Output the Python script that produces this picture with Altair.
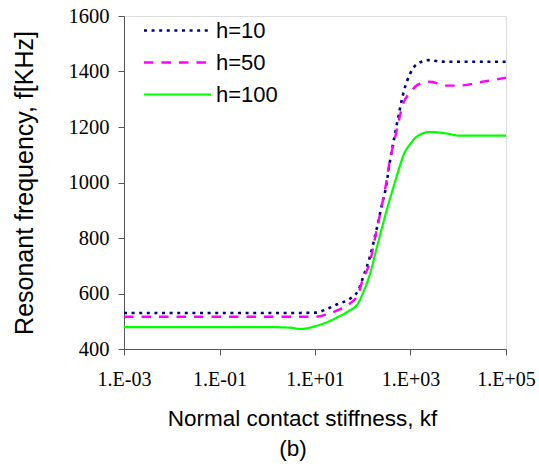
import altair as alt
import pandas as pd

k_values = [0.001, 0.01, 0.1, 1, 3, 5, 10, 20, 30, 50, 80, 100, 140, 200, 260,
            300, 370, 480, 600, 700, 1000, 1400, 2500, 4000, 6000, 10000, 30000, 100000]
f_h10 = [530, 530, 530, 530, 530, 530, 531, 548, 562, 578, 610, 655, 730, 840, 930,
         975, 1075, 1180, 1265, 1318, 1395, 1428, 1441, 1436, 1435, 1435, 1435, 1435]
f_h50 = [516, 516, 516, 516, 516, 516, 516, 528, 540, 560, 598, 650, 710, 837, 930,
         985, 1080, 1165, 1240, 1283, 1325, 1352, 1363, 1356, 1349, 1349, 1362, 1378]
f_h100 = [479, 479, 479, 479, 477, 472, 482, 500, 515, 536, 565, 600, 667, 770, 845,
          885, 940, 1005, 1060, 1095, 1140, 1167, 1182, 1180, 1176, 1169, 1169, 1169]

series_names = ["h=10", "h=50", "h=100"]
series_colors = ["#000080", "#FF00FF", "#00FF00"]
series_dash = [[3, 4.6], [9.5, 8], [1, 0]]
series_width = [2.6, 2.2, 1.0]

x_tick_values = [0.001, 0.1, 10, 1000, 100000]
x_tick_labels = ["1.E-03", "1.E-01", "1.E+01", "1.E+03", "1.E+05"]
y_tick_values = [400, 600, 800, 1000, 1200, 1400, 1600]

rows = []
for name, vals in zip(series_names, [f_h10, f_h50, f_h100]):
    for k, f in zip(k_values, vals):
        rows.append({"k": k, "f": f, "series": name})
df = pd.DataFrame(rows)

label_arr = "[" + ",".join("'" + s + "'" for s in x_tick_labels) + "]"
label_expr = label_arr + "[round((log(datum.value)/LN10+3)/2)]"

legend = alt.Legend(
    title=None, orient="none", legendX=41, legendY=2,
    symbolType="M-3,0H3", symbolSize=500,
    labelFont="Liberation Sans", labelFontSize=22, labelColor="#000000",
    labelOffset=26, rowPadding=8, labelLimit=200,
)

chart = alt.Chart(df).mark_line(interpolate="monotone").encode(
    x=alt.X("k:Q",
            scale=alt.Scale(type="log", domain=[0.001, 100000], nice=False),
            axis=alt.Axis(values=x_tick_values, labelExpr=label_expr,
                          title="Normal contact stiffness, kf",
                          titleX=178, titleAlign="center",
                          titleFont="Liberation Sans", titleFontSize=22.5,
                          titleFontWeight="normal", titleColor="#000000",
                          titlePadding=18,
                          labelFont="Liberation Serif", labelFontSize=20,
                          labelColor="#000000", labelPadding=14,
                          tickSize=6, tickColor="#555555", domainColor="#555555",
                          grid=False, labelFlush=False, labelOverlap=False)),
    y=alt.Y("f:Q",
            scale=alt.Scale(domain=[400, 1600], nice=False),
            axis=alt.Axis(values=y_tick_values, format="d",
                          title="Resonant frequency, f[KHz]",
                          titleFont="Liberation Sans", titleFontSize=25,
                          titleFontWeight="normal", titleColor="#000000",
                          titlePadding=31,
                          labelFont="Liberation Serif", labelFontSize=20.5,
                          labelColor="#000000", labelPadding=9,
                          tickSize=6, tickColor="#555555", domainColor="#555555",
                          grid=False, labelFlush=False, labelOverlap=False)),
    color=alt.Color("series:N", scale=alt.Scale(domain=series_names, range=series_colors),
                    legend=legend, sort=series_names),
    strokeDash=alt.StrokeDash("series:N", scale=alt.Scale(domain=series_names, range=series_dash),
                              legend=legend, sort=series_names),
    strokeWidth=alt.StrokeWidth("series:N", scale=alt.Scale(domain=series_names, range=series_width),
                                legend=legend, sort=series_names),
).properties(
    width=382, height=333,
    autosize=alt.AutoSizeParams(type="none"),
    padding={"left": 124, "top": 16, "right": 33, "bottom": 118},
    title=alt.TitleParams("(b)", orient="bottom", anchor="middle", dx=-22, offset=8,
                          font="Liberation Sans", fontSize=22.5, fontWeight="normal",
                          color="#000000"),
).configure_view(stroke=None).configure(background="white")

chart.save("out.html", embed_options={"renderer": "svg", "actions": False})
